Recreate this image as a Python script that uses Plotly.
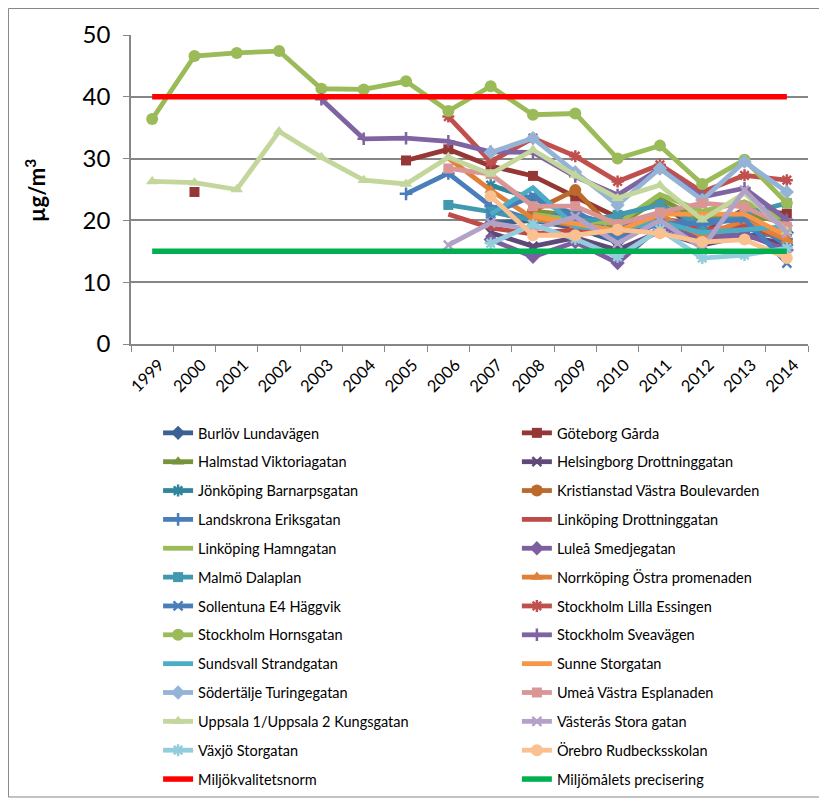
import plotly.graph_objects as go

N = None
years = ["1999", "2000", "2001", "2002", "2003", "2004", "2005", "2006",
         "2007", "2008", "2009", "2010", "2011", "2012", "2013", "2014"]

burlov = [N, N, N, N, N, N, N, N, 19.5, 20.0, 18.8, 16.5, 20.5, 17.5, 17.5, 18.0]
goteborg = [N, 24.6, N, N, N, N, 29.7, 31.5, 28.8, 27.2, 23.8, 20.5, 22.8, 18.0, 21.8, 21.1]
halmstad = [N, N, N, N, N, N, N, N, N, 21.5, 20.8, 19.2, 23.5, 20.0, 21.2, 19.5]
helsingborg = [N, N, N, N, N, N, N, N, 18.0, 15.8, 17.2, 15.2, 18.2, 16.0, 17.5, 16.2]
jonkoping = [N, N, N, N, N, N, N, N, 25.7, 23.5, 21.0, 19.0, 20.2, 17.2, 18.8, 17.0]
kristianstad = [N, N, N, N, N, N, N, N, N, 21.5, 24.9, 17.8, 21.0, 16.8, 19.5, 16.5]
landskrona = [N, N, N, N, N, N, 24.3, 27.6, 22.3, 20.0, 21.5, 17.5, 20.0, 19.8, 20.5, 16.0]
linkoping_d = [N, N, N, N, N, N, N, 21.0, 18.8, 17.8, 18.5, 17.5, 20.5, 18.5, 19.0, 17.2]
linkoping_h = [N, N, N, N, N, N, N, N, N, 21.0, 20.0, 19.5, 24.2, 21.5, 23.0, 20.0]
lulea = [N, N, N, N, N, N, N, N, 16.9, 14.1, 16.5, 13.1, 19.0, 17.0, 17.8, 15.2]
malmo = [N, N, N, N, N, N, N, 22.5, 21.4, 20.0, 19.5, 20.9, 22.5, 19.2, 21.0, 22.8]
norrkoping = [N, N, N, N, N, N, N, 30.1, 24.9, 20.3, 19.2, 17.8, 20.8, 17.5, 20.0, 16.8]
sollentuna = [N, N, N, N, N, N, N, N, 21.0, 24.0, 20.2, 17.0, 19.5, 19.5, 20.2, 13.1]
lilla_essingen = [N, N, N, N, N, N, N, 36.8, 29.5, 33.3, 30.4, 26.3, 29.0, 24.6, 27.3, 26.5]
hornsgatan = [36.4, 46.6, 47.1, 47.4, 41.3, 41.2, 42.5, 37.7, 41.7, 37.1, 37.3, 30.0, 32.1, 25.9, 29.8, 22.8]
sveavagen = [N, N, N, N, 39.6, 33.2, 33.3, 32.8, 31.1, 31.0, 27.1, 24.1, 28.4, 23.8, 25.2, 20.1]
sundsvall = [N, N, N, N, N, N, N, N, 21.0, 25.3, 19.0, 18.5, 19.8, 18.0, 18.5, 19.0]
sunne = [N, N, N, N, N, N, N, N, N, 20.7, 19.5, 18.3, 21.0, 21.0, 21.0, 17.5]
sodertalje = [N, N, N, N, N, N, N, N, 31.0, 33.3, 27.8, 22.5, 28.4, 23.3, 29.5, 24.6]
umea = [N, N, N, N, N, N, N, 28.4, 27.5, 22.3, 22.3, 19.4, 21.3, 22.8, 22.2, 19.0]
uppsala = [26.3, 26.1, 25.0, 34.4, 30.2, 26.5, 25.9, 30.2, 27.5, 31.4, 27.3, 23.6, 25.7, 20.1, 24.4, 18.2]
vasteras = [N, N, N, N, N, N, N, 16.0, 19.6, 18.5, 20.6, 16.3, 20.0, 15.5, 24.9, 18.0]
vaxjo = [N, N, N, N, N, N, N, N, 16.3, 19.3, 17.0, 14.1, 18.5, 13.9, 14.4, 15.5]
orebro = [N, N, N, N, N, N, N, N, 23.9, 17.6, 17.6, 18.5, 17.9, 16.5, 16.9, 13.9]
miljokvalitetsnorm = [40] * 16
miljomal = [15] * 16

names = ["Burlöv Lundavägen", "Göteborg Gårda", "Halmstad Viktoriagatan",
         "Helsingborg Drottninggatan", "Jönköping Barnarpsgatan",
         "Kristianstad Västra Boulevarden", "Landskrona Eriksgatan",
         "Linköping Drottninggatan", "Linköping Hamngatan", "Luleå Smedjegatan",
         "Malmö Dalaplan", "Norrköping Östra promenaden", "Sollentuna E4 Häggvik",
         "Stockholm Lilla Essingen", "Stockholm Hornsgatan", "Stockholm Sveavägen",
         "Sundsvall Strandgatan", "Sunne Storgatan", "Södertälje Turingegatan",
         "Umeå Västra Esplanaden", "Uppsala 1/Uppsala 2 Kungsgatan",
         "Västerås Stora gatan", "Växjö Storgatan", "Örebro Rudbecksskolan",
         "Miljökvalitetsnorm", "Miljömålets precisering"]
series = [burlov, goteborg, halmstad, helsingborg, jonkoping, kristianstad,
          landskrona, linkoping_d, linkoping_h, lulea, malmo, norrkoping,
          sollentuna, lilla_essingen, hornsgatan, sveavagen, sundsvall, sunne,
          sodertalje, umea, uppsala, vasteras, vaxjo, orebro,
          miljokvalitetsnorm, miljomal]
colors = ["#3A6094", "#953735", "#77933C", "#5F497A", "#31859C", "#BC6A2C",
          "#4A7EBB", "#BE4B48", "#9BBB59", "#7D5FA0", "#4198AF", "#E0813A",
          "#4A7EBB", "#C0504D", "#9BBB59", "#8064A2", "#4BACC6", "#F79646",
          "#95B3D7", "#D99694", "#C3D69B", "#B3A2C7", "#93CDDD", "#FAC090",
          "#FF0000", "#00B050"]
symbols = ["diamond", "square", "triangle-up", "x-thin", "asterisk", "circle",
           "cross-thin", None, None] * 2 + ["diamond", "square", "triangle-up",
           "x-thin", "asterisk", "circle", None, None]
sizes = {"diamond": 11, "square": 10, "triangle-up": 11, "x-thin": 9,
         "asterisk": 10, "circle": 12, "cross-thin": 9}

fig = go.Figure()
for i, (nm, vals, col, sym) in enumerate(zip(names, series, colors, symbols)):
    leg = "legend" if i % 2 == 0 else "legend2"
    if sym is None:
        mode = "lines"
        marker = None
    else:
        mode = "lines+markers"
        thin = sym in ("x-thin", "asterisk", "cross-thin")
        marker = dict(symbol=sym, size=sizes[sym], color=col,
                      line=dict(color=col, width=2.5 if thin else 0))
    lw = 5.5 if i >= 24 else 4.8
    fig.add_trace(go.Scatter(
        x=years, y=vals, name=nm, mode=mode, marker=marker,
        line=dict(color=col, width=lw), connectgaps=False,
        legend=leg, legendgroup=nm, hoverinfo="skip"))

grid = "#868686"
legfont = dict(size=14.5, family="Lato, sans-serif", color="#000000")
fig.update_layout(
    width=819, height=796,
    margin=dict(l=123, r=19, t=27, b=460, autoexpand=False),
    paper_bgcolor="white", plot_bgcolor="white",
    font=dict(family="Lato, sans-serif", color="#000000"),
    showlegend=True,
    legend=dict(x=0.040, y=-0.236, xanchor="left", yanchor="top",
                orientation="v", tracegroupgap=7, font=legfont,
                bgcolor="rgba(0,0,0,0)"),
    legend2=dict(x=0.570, y=-0.236, xanchor="left", yanchor="top",
                 orientation="v", tracegroupgap=7, font=legfont,
                 bgcolor="rgba(0,0,0,0)"),
    xaxis=dict(type="category", tickson="boundaries", ticks="outside",
               ticklen=6, tickcolor=grid, showline=True, linecolor=grid,
               linewidth=1.5, showgrid=False, tickangle=-45,
               tickfont=dict(size=16.5, family="Lato, sans-serif"),
               ticklabelshift=7, ticklabelstandoff=3,
               range=[-0.5, 15.5]),
    yaxis=dict(range=[0, 50], dtick=10, ticks="outside", ticklen=6,
               tickcolor=grid, showline=True, linecolor=grid, linewidth=1.5,
               showgrid=True, gridcolor=grid, gridwidth=1.5, zeroline=False,
               tickfont=dict(size=24, family="Lato, sans-serif"),
               ticklabelstandoff=8),
    annotations=[dict(text="<b>µg/m<sup>3</sup></b>", textangle=-90,
                      x=-0.142, y=0.498, xref="paper", yref="paper",
                      xanchor="center", yanchor="middle",
                      showarrow=False, font=dict(size=22, family="Lato, sans-serif"))],
    shapes=[dict(type="rect", xref="paper", yref="paper",
                 x0=-0.1810, x1=1.0177, y0=-1.466, y1=1.0858,
                 line=dict(color=grid, width=1), fillcolor="rgba(0,0,0,0)",
                 layer="below")],
)

fig.write_html("out.html")
